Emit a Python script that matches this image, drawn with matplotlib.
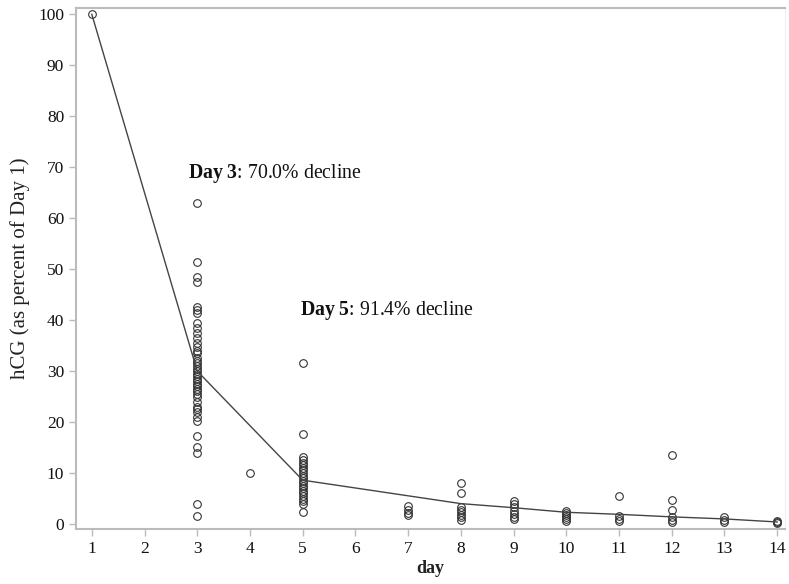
import numpy as np
import matplotlib.pyplot as plt

plt.rcParams['font.family'] = ['Liberation Serif', 'DejaVu Serif']
plt.rcParams['mathtext.fontset'] = 'custom'
plt.rcParams['mathtext.rm'] = 'Liberation Serif'
plt.rcParams['mathtext.bf'] = 'Liberation Serif:bold'

# individual patient values (hCG as percent of day 1)
day1 = [100]
day3 = [63.0, 51.4, 48.5, 47.5, 42.5, 42.0, 41.3, 39.5, 38.5, 37.5, 36.5, 35.5,
        34.8, 34.0, 33.5, 32.5, 32.0, 31.5, 31.0, 30.5, 30.0, 29.5, 29.0, 28.5,
        28.0, 27.5, 27.0, 26.5, 26.0, 25.5, 25.0, 24.0, 23.0, 22.5, 22.0, 21.0,
        20.3, 17.3, 15.1, 14.0, 4.0, 1.6]
day4 = [10.0]
day5 = [31.6, 17.6, 13.1, 12.5, 12.0, 11.5, 11.0, 10.5, 10.0, 9.5, 9.0, 8.5,
        8.0, 7.5, 7.0, 6.5, 6.0, 5.5, 5.0, 4.5, 4.0, 2.4]
day7 = [3.5, 2.8, 2.2, 1.8]
day8 = [8.0, 6.1, 3.3, 2.8, 2.3, 1.8, 1.3, 0.8]
day9 = [4.5, 3.9, 3.3, 2.6, 2.0, 1.3, 0.9]
day10 = [2.6, 2.2, 1.8, 1.4, 1.0, 0.6]
day11 = [5.5, 1.6, 1.0, 0.5]
day12 = [13.5, 4.7, 2.7, 1.4, 0.8, 0.3]
day13 = [1.3, 0.7, 0.4]
day14 = [0.6, 0.3, 0.1]

points = {1: day1, 3: day3, 4: day4, 5: day5, 7: day7, 8: day8, 9: day9,
          10: day10, 11: day11, 12: day12, 13: day13, 14: day14}

# summary line
line_days = [1, 3, 5, 8, 9, 10, 11, 12, 13, 14]
line_vals = [100, 30.0, 8.6, 4.0, 3.2, 2.3, 1.9, 1.4, 1.0, 0.4]

fig = plt.figure(figsize=(7.89, 5.84), dpi=100)
ax = fig.add_axes([0.0963, 0.094, 0.8987, 0.892])

for d, vals in points.items():
    ax.plot([d] * len(vals), vals, linestyle='none', marker='o', markersize=5.5,
            markerfacecolor='none', markeredgecolor='#333333', markeredgewidth=0.8)

ax.plot(line_days, line_vals, color='#444444', linewidth=1.0)

ax.text(2.82, 68.8, r'$\mathbf{Day}$ $\mathbf{3}$: 70.0% decline', fontsize=14.2,
        va='center', color='#111111')
ax.text(4.95, 41.8, r'$\mathbf{Day}$ $\mathbf{5}$: 91.4% decline', fontsize=14.2,
        va='center', color='#111111')

ax.set_xlim(0.7, 14.15)
ax.set_ylim(-1, 101.2)
ax.set_xticks(range(1, 15))
ax.set_yticks(range(0, 101, 10))
ax.tick_params(colors='#bbbbbb', labelcolor='#111111', labelsize=12.5, length=5,
               width=1)
ax.set_xlabel('day', fontsize=13, fontweight='bold', color='#222222', labelpad=2)
ax.set_ylabel('hCG (as percent of Day 1)', fontsize=15, color='#222222',
              labelpad=6)

for s in ['left', 'bottom', 'top']:
    ax.spines[s].set_color('#bbbbbb')
    ax.spines[s].set_linewidth(1.5)
ax.spines['right'].set_color('#eeeeee')

fig.savefig('out.png', dpi=100)
